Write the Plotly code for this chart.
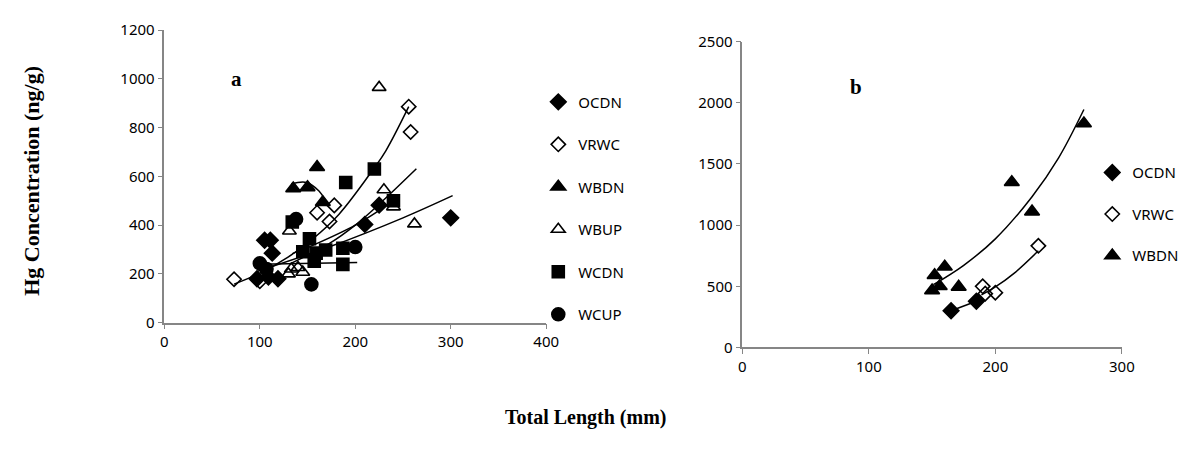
import plotly.graph_objects as go

W, H = 1194, 454

# ---------------- Panel a data ----------------
a_ocdn_x = [97, 109, 119, 105, 111, 113, 210, 225, 300]
a_ocdn_y = [180, 187, 180, 338, 338, 285, 403, 482, 430]
a_vrwc_x = [73, 100, 160, 173, 178, 256, 258]
a_vrwc_y = [178, 170, 451, 415, 481, 886, 782]
a_wbdn_x = [135, 150, 160, 166]
a_wbdn_y = [550, 555, 638, 494]
a_wbup_x = [131, 133, 140, 145, 130, 230, 240, 225, 262]
a_wbup_y = [376, 220, 226, 207, 200, 545, 475, 965, 405]
a_wcdn_x = [134, 152, 145, 159, 169, 187, 157, 187, 190, 220, 240]
a_wcdn_y = [413, 344, 291, 285, 298, 305, 252, 239, 575, 630, 500]
a_wcup_x = [100, 107, 138, 154, 200]
a_wcup_y = [243, 220, 425, 157, 310]

# trendlines (panel a)
a_t_vrwc_x = [73, 100, 130, 155, 183, 219, 232, 256]
a_t_vrwc_y = [158, 203, 270, 342, 445, 630, 705, 886]
a_t_ocdn_x = [97, 173, 250, 302]
a_t_ocdn_y = [210, 311, 430, 521]
a_t_wbup_x = [131, 173, 200, 224, 264]
a_t_wbup_y = [240, 325, 400, 482, 631]
a_t_wcdn_x = [134, 156, 200, 240]
a_t_wcdn_y = [283, 318, 400, 500]
a_t_wcup_x = [100, 202]
a_t_wcup_y = [240, 247]
a_t_wbdn_x = [133, 149, 162, 168]
a_t_wbdn_y = [570, 575, 540, 505]

# ---------------- Panel b data ----------------
b_ocdn_x = [165, 185]
b_ocdn_y = [300, 378]
b_vrwc_x = [190, 192, 200, 234]
b_vrwc_y = [500, 440, 448, 831]
b_wbdn_x = [150, 152, 156, 160, 171, 213, 229, 270]
b_wbdn_y = [466, 590, 500, 660, 495, 1350, 1110, 1830]

b_t_ocdn_x = [165, 185]
b_t_ocdn_y = [300, 378]
b_t_vrwc_x = [189, 200, 215, 234]
b_t_vrwc_y = [430, 495, 608, 790]
b_t_wbdn_x = [151, 175, 200, 229, 250, 270]
b_t_wbdn_y = [513, 672, 888, 1232, 1550, 1945]

a_ticks_x = [0, 100, 200, 300, 400]
a_ticks_y = [0, 200, 400, 600, 800, 1000, 1200]
b_ticks_x = [0, 100, 200, 300]
b_ticks_y = [0, 500, 1000, 1500, 2000, 2500]

names = ["OCDN", "VRWC", "WBDN", "WBUP", "WCDN", "WCUP"]
symbols = {"OCDN": "diamond", "VRWC": "diamond-open", "WBDN": "triangle-up",
           "WBUP": "triangle-up-open", "WCDN": "square", "WCUP": "circle"}
sizes = {"OCDN": 12, "VRWC": 11, "WBDN": 13, "WBUP": 12, "WCDN": 12, "WCUP": 13}

fig = go.Figure()

def add_pts(x, y, name, xa, ya, legend):
    fig.add_trace(go.Scatter(
        x=x, y=y, mode="markers", name=name, xaxis=xa, yaxis=ya,
        legend=legend, legendgroup=legend + name,
        marker=dict(symbol=symbols[name], size=sizes[name], color="black",
                    line=dict(color="black", width=1.6)),
        cliponaxis=False))

def add_line(x, y, xa, ya):
    fig.add_trace(go.Scatter(
        x=x, y=y, mode="lines", xaxis=xa, yaxis=ya, showlegend=False,
        line=dict(color="black", width=1.5, shape="spline"), hoverinfo="skip"))

# trendlines first (beneath markers)
add_line(a_t_vrwc_x, a_t_vrwc_y, "x", "y")
add_line(a_t_ocdn_x, a_t_ocdn_y, "x", "y")
add_line(a_t_wbup_x, a_t_wbup_y, "x", "y")
add_line(a_t_wcdn_x, a_t_wcdn_y, "x", "y")
add_line(a_t_wcup_x, a_t_wcup_y, "x", "y")
add_line(a_t_wbdn_x, a_t_wbdn_y, "x", "y")
add_line(b_t_ocdn_x, b_t_ocdn_y, "x2", "y2")
add_line(b_t_vrwc_x, b_t_vrwc_y, "x2", "y2")
add_line(b_t_wbdn_x, b_t_wbdn_y, "x2", "y2")

a_data = {"OCDN": (a_ocdn_x, a_ocdn_y), "VRWC": (a_vrwc_x, a_vrwc_y),
          "WBDN": (a_wbdn_x, a_wbdn_y), "WBUP": (a_wbup_x, a_wbup_y),
          "WCDN": (a_wcdn_x, a_wcdn_y), "WCUP": (a_wcup_x, a_wcup_y)}
for n in names:
    add_pts(a_data[n][0], a_data[n][1], n, "x", "y", "legend")

b_data = {"OCDN": (b_ocdn_x, b_ocdn_y), "VRWC": (b_vrwc_x, b_vrwc_y),
          "WBDN": (b_wbdn_x, b_wbdn_y)}
for n in ["OCDN", "VRWC", "WBDN"]:
    add_pts(b_data[n][0], b_data[n][1], n, "x2", "y2", "legend2")

def px(v):
    return v / W

def py(v):
    return 1 - v / H

tick_font = "Noto Sans"
axis_common = dict(showgrid=False, zeroline=False, showline=True,
                   linecolor="#868686", linewidth=1.5, ticks="outside",
                   tickcolor="#868686", ticklen=5, tickwidth=1.2,
                   tickfont=dict(family=tick_font, size=15, color="black"))

serif = "Liberation Serif"
fig.update_layout(
    width=W, height=H, margin=dict(l=0, r=0, t=0, b=0),
    paper_bgcolor="white", plot_bgcolor="white", showlegend=True,
    xaxis=dict(domain=[px(162.7), px(550)], range=[0, 400], tickvals=a_ticks_x,
               anchor="y", **axis_common),
    yaxis=dict(domain=[py(326), py(20)], range=[0, 1200], tickvals=a_ticks_y,
               anchor="x", **axis_common),
    xaxis2=dict(domain=[px(749), px(1134)], range=[0, 300], tickvals=b_ticks_x,
                anchor="y2", **axis_common),
    yaxis2=dict(domain=[py(352), py(32)], range=[0, 2500], tickvals=b_ticks_y,
                anchor="x2", **axis_common),
    legend=dict(x=px(542), y=py(78), xanchor="left", yanchor="top",
                bgcolor="rgba(0,0,0,0)", tracegroupgap=20, itemwidth=30,
                font=dict(family=tick_font, size=15, color="black")),
    legend2=dict(x=px(1104), y=py(152), xanchor="left", yanchor="top",
                 bgcolor="rgba(0,0,0,0)", tracegroupgap=19, itemwidth=30,
                 font=dict(family=tick_font, size=15, color="black")),
    annotations=[
        dict(text="<b>a</b>", x=px(236), y=py(71), xref="paper", yref="paper",
             xanchor="center", yanchor="middle", showarrow=False,
             font=dict(family=serif, size=21, color="black")),
        dict(text="<b>b</b>", x=px(864), y=py(79), xref="paper", yref="paper",
             xanchor="center", yanchor="middle", showarrow=False,
             font=dict(family=serif, size=21, color="black")),
        dict(text="<b>Hg Concentration (ng/g)</b>", x=px(28), y=py(178), xref="paper",
             yref="paper", xanchor="center", yanchor="middle", textangle=-90,
             showarrow=False, font=dict(family=serif, size=22, color="black")),
        dict(text="<b>Total Length (mm)</b>", x=px(590), y=py(425), xref="paper",
             yref="paper", xanchor="center", yanchor="middle", showarrow=False,
             font=dict(family=serif, size=20, color="black")),
    ],
)

fig.write_html("out.html")
